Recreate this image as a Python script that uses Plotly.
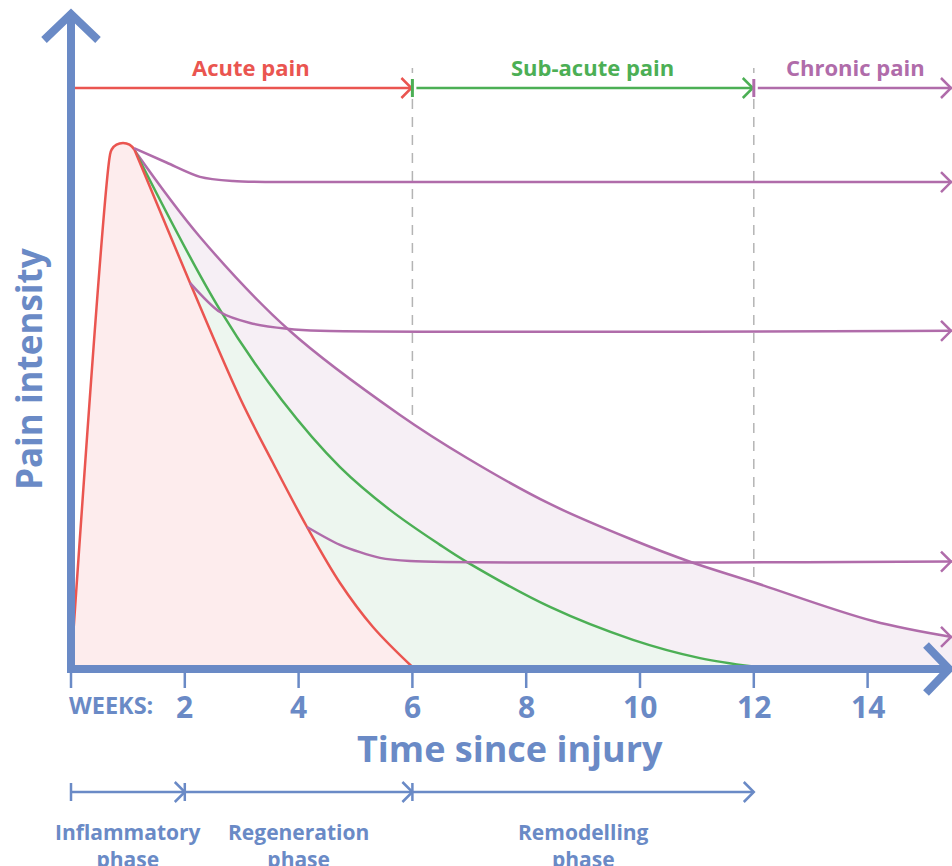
import plotly.graph_objects as go

# ---------------- data (weeks, pain intensity 0-10) ----------------
acute_x = [0.0, 0.685, 0.715, 0.800, 0.914, 1.028, 1.112, 1.125, 2.091, 2.970, 3.550, 4.148, 4.728, 5.307, 6.0]
acute_y = [0.0, 9.81, 9.914, 10.006, 10.038, 10.006, 9.914, 9.885, 7.36, 5.153, 3.908, 2.682, 1.609, 0.766, 0.0]

subacute_x = [1.125, 2.619, 3.708, 4.728, 5.606, 6.485, 6.960, 8.418, 9.877, 11.054, 11.986]
subacute_y = [9.885, 6.84, 5.11, 3.83, 3.01, 2.34, 2.01, 1.15, 0.52, 0.17, 0.01]

chronic_x = [1.125, 2.267, 3.849, 5.782, 6.960, 8.418, 9.877, 10.879, 11.986, 14.095, 15.483]
chronic_y = [9.885, 8.238, 6.437, 4.828, 4.004, 3.123, 2.433, 2.017, 1.628, 0.881, 0.575]

plateau_high_x = [1.107, 1.687, 2.267, 2.847, 3.497, 15.483]
plateau_high_y = [9.94, 9.66, 9.39, 9.31, 9.29, 9.29]

plateau_mid_x = [2.091, 2.619, 3.146, 3.796, 4.376, 15.483]
plateau_mid_y = [7.36, 6.80, 6.59, 6.48, 6.44, 6.44]

plateau_low_x = [4.148, 4.728, 5.431, 5.958, 15.483]
plateau_low_y = [2.682, 2.34, 2.09, 2.03, 2.02]

week_ticks = [2, 4, 6, 8, 10, 12, 14]
tick_marks = [0, 2, 4, 6, 8, 10, 12, 14]

pain_bounds = [0, 6, 12, 15.483]
pain_labels = ["Acute pain", "Sub-acute pain", "Chronic pain"]
pain_label_x = [3.17, 9.16, 13.79]

phase_bounds = [0, 2, 6, 12]
phase_labels = ["Inflammatory<br>phase", "Regeneration<br>phase", "Remodelling<br>phase"]

# ---------------- style ----------------
BLUE = "#6a8ac6"
RED = "#ea5550"
GREEN = "#4caf55"
PURPLE = "#b06caa"
PINK_FILL = "#fdeced"
GREEN_FILL = "#edf6ef"
PURPLE_FILL = "#f6eff5"
GREY = "#b4b4b4"
FONT = "Open Sans"

PXX = 56.9   # px per week
PXY = 52.2   # px per unit of pain
X0 = -71 / PXX
X1 = (952 - 71) / PXX
Y0 = -(866 - 667) / PXY
Y1 = 667 / PXY


def dx(px):
    return px / PXX


def dy(px):
    return px / PXY


fig = go.Figure()

fig.add_trace(go.Scatter(x=chronic_x, y=chronic_y, mode="lines", fill="tozeroy",
                         fillcolor=PURPLE_FILL, line=dict(color=PURPLE, width=2.5, shape="spline", smoothing=1.0),
                         hoverinfo="skip", showlegend=False))
fig.add_trace(go.Scatter(x=subacute_x, y=subacute_y, mode="lines", fill="tozeroy",
                         fillcolor=GREEN_FILL, line=dict(color=GREEN, width=2.5, shape="spline", smoothing=1.0),
                         hoverinfo="skip", showlegend=False))
fig.add_trace(go.Scatter(x=acute_x, y=acute_y, mode="lines", fill="tozeroy",
                         fillcolor=PINK_FILL, line=dict(color=RED, width=2.5, shape="spline", smoothing=1.0),
                         hoverinfo="skip", showlegend=False))
for xs, ys in [(plateau_high_x, plateau_high_y), (plateau_mid_x, plateau_mid_y), (plateau_low_x, plateau_low_y)]:
    fig.add_trace(go.Scatter(x=xs, y=ys, mode="lines",
                             line=dict(color=PURPLE, width=2.5, shape="spline", smoothing=0.8),
                             hoverinfo="skip", showlegend=False))

shapes = []


def chevron(xa, ya, color, w, sx=10, sy=10):
    shapes.append(dict(type="path", xref="x", yref="y",
                       path=f"M {xa - dx(sx)},{ya + dy(sy)} L {xa},{ya} L {xa - dx(sx)},{ya - dy(sy)}",
                       line=dict(color=color, width=w)))


def vbar(xa, ya, color, w, h=9):
    shapes.append(dict(type="line", xref="x", yref="y", x0=xa, x1=xa, y0=ya - dy(h), y1=ya + dy(h),
                       line=dict(color=color, width=w)))


# dashed phase dividers
for b in pain_bounds[1:3]:
    shapes.append(dict(type="line", xref="x", yref="y", x0=b, x1=b, y0=0, y1=dy(667 - 68),
                       line=dict(color=GREY, width=1.5, dash="10px,8px"), layer="below"))

# top pain-phase arrows
ytop = dy(667 - 88)
pain_colors = [RED, GREEN, PURPLE]
for i, c in enumerate(pain_colors):
    shapes.append(dict(type="line", xref="x", yref="y", x0=pain_bounds[i] + dx(4), x1=pain_bounds[i + 1],
                       y0=ytop, y1=ytop, line=dict(color=c, width=2.5)))
    if i > 0:
        vbar(pain_bounds[i], ytop, c, 3)
    chevron(pain_bounds[i + 1] - dx(1), ytop, c, 2.5)

# right-edge chevrons on chronic lines
for yy in [plateau_high_y[-1], plateau_mid_y[-1], plateau_low_y[-1], chronic_y[-1]]:
    chevron(X1 - dx(1), yy, PURPLE, 2.5)

# bottom phase arrows
ybot = dy(667 - 792)
shapes.append(dict(type="line", xref="x", yref="y", x0=phase_bounds[0], x1=phase_bounds[-1],
                   y0=ybot, y1=ybot, line=dict(color=BLUE, width=2.5)))
vbar(phase_bounds[0], ybot, BLUE, 2.5)
for b in phase_bounds[1:]:
    chevron(b, ybot, BLUE, 2.5)
for b in phase_bounds[1:-1]:
    vbar(b, ybot, BLUE, 2.5)

# main axes (L shape)
yax = dy(-2)
shapes.append(dict(type="path", xref="x", yref="y",
                   path=f"M 0,{dy(667 - 16)} L 0,{yax} L {X1 - dx(4)},{yax}",
                   line=dict(color=BLUE, width=8)))
# y arrowhead
shapes.append(dict(type="path", xref="x", yref="y",
                   path=f"M {-dx(27)},{dy(667 - 40)} L 0,{dy(667 - 14)} L {dx(27)},{dy(667 - 40)}",
                   line=dict(color=BLUE, width=8)))
# x arrowhead
shapes.append(dict(type="path", xref="x", yref="y",
                   path=f"M {X1 - dx(26)},{yax + dy(24)} L {X1 - dx(3)},{yax} L {X1 - dx(26)},{yax - dy(24)}",
                   line=dict(color=BLUE, width=8)))
# tick marks
for t in tick_marks:
    shapes.append(dict(type="line", xref="x", yref="y", x0=t, x1=t, y0=-dy(5), y1=-dy(21),
                       line=dict(color=BLUE, width=2.5)))

annotations = []
for t in week_ticks:
    annotations.append(dict(x=t, y=-dy(706 - 667), xref="x", yref="y", text=str(t), showarrow=False,
                            font=dict(family=FONT, size=30, color=BLUE, weight="bold"),
                            xanchor="center", yanchor="middle"))
annotations.append(dict(x=-dx(4), y=-dy(705 - 667), xref="x", yref="y", text="WEEKS:", showarrow=False,
                        font=dict(family=FONT, size=23.5, color=BLUE, weight="bold"),
                        xanchor="left", yanchor="middle"))
annotations.append(dict(x=dx(510 - 71), y=-dy(748 - 667), xref="x", yref="y", text="Time since injury",
                        showarrow=False, font=dict(family=FONT, size=36, color=BLUE, weight="bold"),
                        xanchor="center", yanchor="middle"))
annotations.append(dict(x=-dx(71 - 28), y=dy(667 - 369), xref="x", yref="y", text="Pain intensity",
                        showarrow=False, textangle=-90,
                        font=dict(family=FONT, size=35, color=BLUE, weight="bold"),
                        xanchor="center", yanchor="middle"))
for lbl, lx, c in zip(pain_labels, pain_label_x, pain_colors):
    annotations.append(dict(x=lx, y=dy(667 - 67), xref="x", yref="y", text=lbl, showarrow=False,
                            font=dict(family=FONT, size=22, color=c, weight="bold"),
                            xanchor="center", yanchor="middle"))
for i, lbl in enumerate(phase_labels):
    cx = (phase_bounds[i] + phase_bounds[i + 1]) / 2
    annotations.append(dict(x=cx, y=-dy(845 - 667), xref="x", yref="y", text=lbl, showarrow=False,
                            font=dict(family=FONT, size=21, color=BLUE, weight="bold"),
                            xanchor="center", yanchor="middle"))

fig.update_layout(
    width=952, height=866,
    margin=dict(l=0, r=0, t=0, b=0),
    paper_bgcolor="white", plot_bgcolor="white",
    xaxis=dict(range=[X0, X1], visible=False, fixedrange=True),
    yaxis=dict(range=[Y0, Y1], visible=False, fixedrange=True),
    shapes=shapes, annotations=annotations,
    showlegend=False,
)

fig.write_html("out.html", config={"displayModeBar": False},
               post_script="document.body.style.margin='0';document.body.style.overflow='hidden';")
